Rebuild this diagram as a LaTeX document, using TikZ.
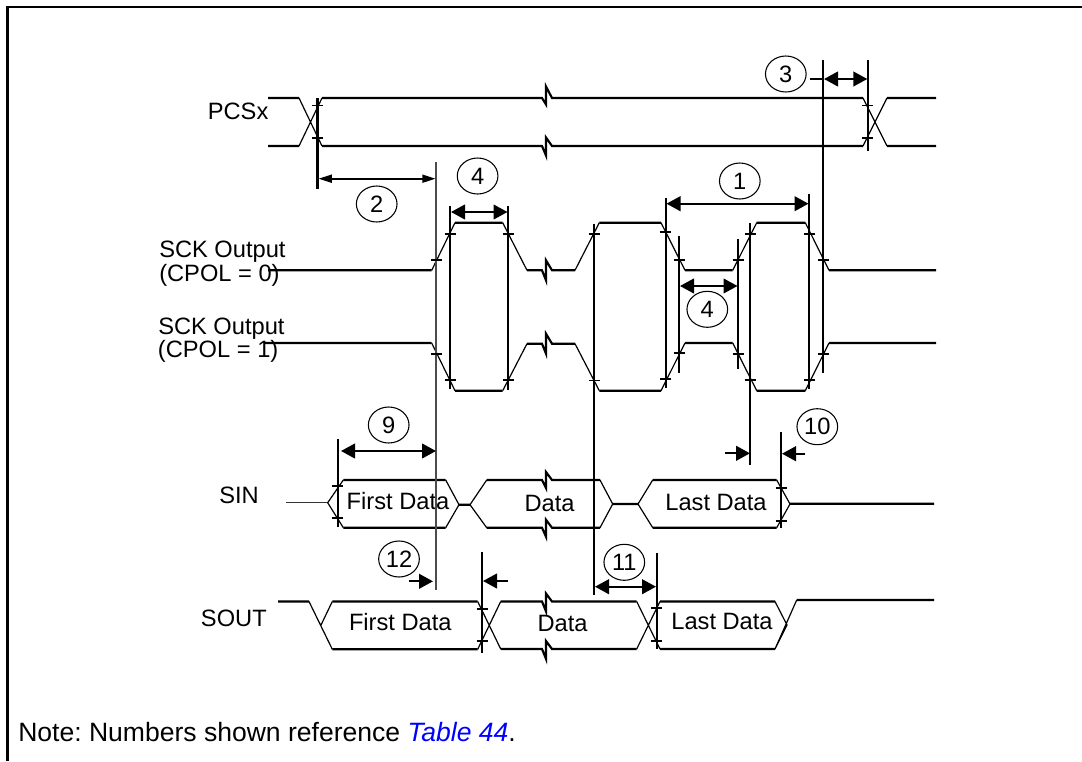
\documentclass[tikz,border=0pt]{standalone}
\usepackage{fontspec}
\setmainfont{Liberation Sans}
\usetikzlibrary{arrows.meta,shapes.geometric}
\definecolor{linkblue}{RGB}{0,0,255}
\newcommand{\zigz}[3]{-- (542,#1) -- (546,#1+#2) -- (546,#1-#3) -- (552,#1)}
\frenchspacing
\tikzset{
  frameline/.style={line width=1.8pt,black},
  level/.style={line width=1.6pt,black,line join=miter},
  slope/.style={line width=0.9pt,black},
  marker/.style={line width=1.6pt,black},
  grayline/.style={line width=1pt,black!70},
  tickmark/.style={line width=1.3pt,black},
  bigdim/.style={line width=1.6pt,black,{Triangle[length=10.5pt,width=11pt]}-{Triangle[length=10.5pt,width=11pt]}},
  slimdim/.style={line width=1.3pt,black,{Triangle[length=10pt,width=6pt]}-{Triangle[length=10pt,width=6pt]}},
  halfdim/.style={line width=1.6pt,black,-{Triangle[length=10.5pt,width=11pt]}},
  label/.style={anchor=base west,inner sep=0pt,font=\fontsize{17.75}{20}\selectfont},
  midlabel/.style={anchor=base,inner sep=0pt,font=\fontsize{17.75}{20}\selectfont},
  notelabel/.style={anchor=base west,inner sep=0pt,font=\fontsize{19.9}{22}\selectfont},
  callout/.style={ellipse,draw,line width=0.8pt,minimum width=30.5pt,minimum height=27pt,inner sep=0pt,font=\fontsize{17.75}{20}\selectfont},
}
\begin{document}
\begin{tikzpicture}[x=0.75pt,y=-0.75pt]
\useasboundingbox (0,0) rectangle (1082,761);
% frame
\draw[frameline] (7.6,761) -- (7.6,6.7) -- (1082,6.7);

% PCSx
\draw[slope] (299,98) -- (322,146) (299,146) -- (322,98) (863,98) -- (887,146) (863,146) -- (887,98);
\draw[level] (268,98) -- (299,98) (322,98) \zigz{98}{6.5}{11.5} -- (863,98) (887,98) -- (936,98);
\draw[level] (268,146) -- (299,146) (322,146) \zigz{146}{9.5}{8.5} -- (863,146) (887,146) -- (936,146);

% SCK CPOL=0
\draw[slope] (431.7,270.3) -- (455,222.7) (502.7,222.7) -- (527,270.3) (575,270.3) -- (599.3,222.7) (661,222.7) -- (685,270.3) (732.7,270.3) -- (756.7,222.7) (805.3,222.7) -- (829,270.3);
\draw[level] (268,270.3) -- (431.7,270.3) (455,222.7) -- (502.7,222.7) (527,270.3) \zigz{270.3}{10}{10} -- (575,270.3) (599.3,222.7) -- (661,222.7) (685,270.3) -- (732.7,270.3) (756.7,222.7) -- (805.3,222.7) (829,270.3) -- (936,270.3);

% SCK CPOL=1
\draw[slope] (431.7,343) -- (455,390.7) (502.7,390.7) -- (527,343.7) (575,343.7) -- (599.3,390.7) (661,390.7) -- (685,343) (732.7,343) -- (756.7,390.7) (805.3,390.7) -- (829,343);
\draw[level] (265,343) -- (431.7,343) (455,390.7) -- (502.7,390.7) (527,343.7) \zigz{343.7}{10}{10} -- (575,343.7) (599.3,390.7) -- (661,390.7) (685,343) -- (732.7,343) (756.7,390.7) -- (805.3,390.7) (829,343) -- (936,343);

% SIN
\draw[line width=1pt,black!80] (286,502.7) -- (327.7,502.7);
\draw[slope] (343.3,480) -- (327.7,502.7) -- (343.3,527.7) (445.7,480) -- (459,504.7) -- (445.7,527.7) (486.7,480) -- (470,504.7) -- (486.7,527.7) (600,480) -- (612.7,504) -- (600,527.7) (652.7,480) -- (638,504) -- (652.7,527.7) (776.7,480) -- (790,504) -- (776.7,527.7);
\draw[level] (343.3,480) -- (445.7,480) (343.3,527.7) -- (445.7,527.7) (459,504.7) -- (470,504.7) (486.7,480) \zigz{480}{8}{8} -- (600,480) (486.7,527.7) \zigz{527.7}{9}{8} -- (600,527.7) (612.7,504) -- (638,504) (652.7,480) -- (776.7,480) (652.7,527.7) -- (776.7,527.7) (790,503.7) -- (934,503.7);

% SOUT
\draw[slope] (309,601.5) -- (332.3,649.3) (321,625) -- (332.3,601.5) (477.7,601.5) -- (500.7,649) (477.7,649.3) -- (500.7,601.5) (636.7,601.5) -- (660,649) (636.7,649) -- (660,601.5) (775,601.5) -- (787,625) -- (775,649) (775,649) -- (796.7,600);
\draw[level] (278,601.5) -- (309,601.5) (332.3,601.5) -- (477.7,601.5) (332.3,649.3) -- (477.7,649.3) (500.7,601.5) \zigz{601.5}{10}{8} -- (636.7,601.5) (500.7,649) \zigz{649}{10}{8} -- (636.7,649) (660,601.5) -- (775,601.5) (660,649) -- (775,649) (796.7,600) -- (934,600);

% text labels
\node[label] (pcs) at (207.6,119) {PCSx};
\node[label] (sck0a) at (159,257.7) {SCK Output};
\node[label] (sck0b) at (159,281) {(CPOL = 0)};
\node[label] (sck1a) at (158,334.3) {SCK Output};
\node[label] (sck1b) at (157.7,357.7) {(CPOL = 1)};
\node[label] (sin) at (219,503) {SIN};
\node[label] (sout) at (200.7,626.7) {SOUT};
\node[midlabel] (d1) at (398,509) {First Data};
\node[midlabel] (d2) at (549.5,511) {Data};
\node[midlabel] (d3) at (716,510.7) {Last Data};
\node[midlabel] (d4) at (400.3,630) {First Data};
\node[midlabel] (d5) at (562.5,631) {Data};
\node[midlabel] (d6) at (722,629) {Last Data};
\node[notelabel] (note) at (18,741.7) {Note: Numbers shown reference \textcolor{linkblue}{\itshape Table 44}.};

% vertical markers
\draw[grayline] (436,162) -- (436,590);
\draw[marker] (317.5,98) -- (317.5,189);
\draw[marker] (867.7,60) -- (867.7,150.7);
\draw[marker] (823.4,60) -- (823.4,372.7);
\draw[marker] (450,206) -- (450,389.3);
\draw[marker] (508,206) -- (508,390);
\draw[marker] (594,224) -- (594,594.7);
\draw[marker] (665.8,198) -- (665.8,388);
\draw[marker] (679,236) -- (679,373.3);
\draw[marker] (738,239.3) -- (738,368.7);
\draw[marker] (750,223) -- (750,464.7);
\draw[marker] (809,194) -- (809,389);
\draw[marker] (337.7,439.3) -- (337.7,526.7);
\draw[marker] (781,432.3) -- (781,528.3);
\draw[marker] (482,551.7) -- (482,652.7);
\draw[marker] (656.7,553.3) -- (656.7,649.3);

% ticks
\foreach \px/\py in {317.5/105.5,317.5/137.7,867.7/105.5,867.7/137.7,
  436/260,450/233.7,508/233.7,594/233.7,665.8/231.7,679/260,738/260,750/233.7,809/233.7,823.4/260,
  436/354,450/380,508/380,594/380.5,665.8/378.7,679/353,738/354,750/380,809/380,823.4/354,
  337.7/486,337.7/518,781/488,781/520.7,482/608.7,482/640.7,656.7/608.3,656.7/641.3}
  \draw[tickmark] (\px-5.5,\py) -- (\px+5.5,\py);

% callouts
\node[callout] (c2) at (376.7,204) {2};
\node[callout] (c4a) at (477.6,176) {4};
\node[callout] (c3) at (785.8,74) {3};
\node[callout] (c1) at (739.8,181) {1};
\node[callout] (c4b) at (707.3,309.3) {4};
\node[callout] (c9) at (388.7,425) {9};
\node[callout] (c10) at (817.3,426.7) {10};
\node[callout] (c12) at (399,559) {12};
\node[callout] (c11) at (624.3,562.3) {11};

% dimension arrows
\draw[slimdim] (318.5,178.7) -- (435.6,178.7);
\draw[bigdim] (451,212) -- (507.5,212);
\draw[bigdim] (666.5,203.7) -- (808.5,203.7);
\draw[bigdim] (680,286) -- (737.5,286);
\draw[bigdim] (824,79) -- (867.3,79);
\draw[line width=1.6pt] (810,79) -- (824,79);
\draw[bigdim] (341,451) -- (436,451);
\draw[bigdim] (595,586.7) -- (656,586.7);
\draw[halfdim] (725,453.3) -- (750,453.3);
\draw[halfdim] (805,453.7) -- (782,453.7);
\draw[halfdim] (409,581.3) -- (433,581.3);
\draw[halfdim] (508,581) -- (483,581);
\end{tikzpicture}
\end{document}
